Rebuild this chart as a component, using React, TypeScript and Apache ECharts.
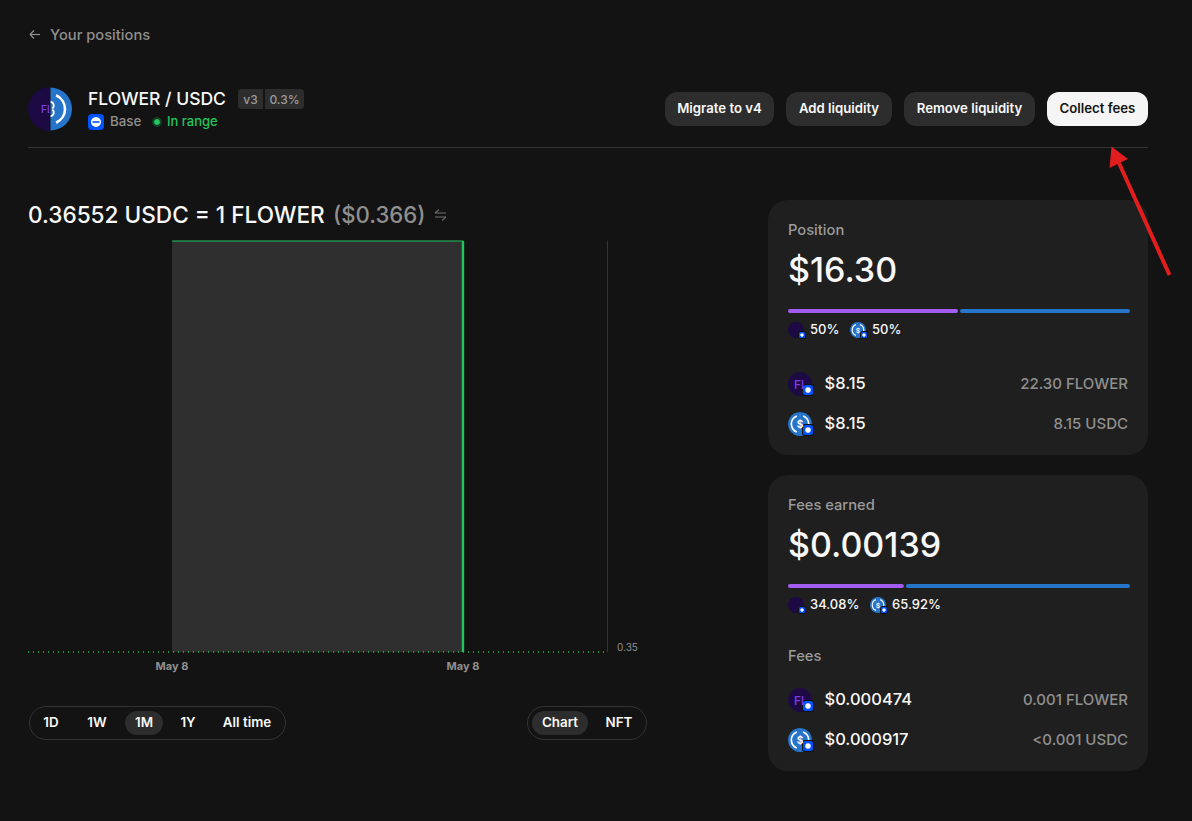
import React, { useEffect, useRef } from "react";
import * as echarts from "echarts";

const FONT = "Inter, 'Noto Sans', sans-serif";
const BG = "#131313";
const CARD = "#1f1f1f";
const CHIP = "#2d2d2d";
const BAND = "#2f2f2f";
const GREY = "#8f8f8f";
const WHITE = "#f8f8f8";
const GREEN = "#22c55e";
const PURPLE = "#a35cf0";
const BLUE = "#2775ca";

// chart data: x is the hour of May 8
const xDomain = [0.06, 23.94];
const yDomain = [0.35, 0.36552];
const priceHours = [0.06, 23.94];
const priceValues = [0.35, 0.35];
const rangeHours = [6, 18];
const rangeTopValues = [0.36552, 0.36552];
const currentHours = [18, 18];
const currentValues = [0.36552, 0.35];
const xTickHours = [6, 18];
const xTickLabel = "May 8";
const yTickValues = [0.35];

const ranges = ["1D", "1W", "1M", "1Y", "All time"];
const views = ["Chart", "NFT"];
const actions = ["Migrate to v4", "Add liquidity", "Remove liquidity", "Collect fees"];
const positionShares = [50, 50];
const feeShares = [34.08, 65.92];
const SHARE_GAP = 0.6;

const txt = (text: string, x: number, y: number, size: number, fill: string, extra: any = {}) => ({
  type: "text",
  silent: true,
  style: {
    text, x, y, fill,
    font: `${extra.weight || 500} ${size}px ${FONT}`,
    textAlign: extra.align || "left",
    textVerticalAlign: "middle",
  },
  z: 20,
});
const rect = (x: number, y: number, w: number, h: number, r: any, fill: string, stroke?: string) => ({
  type: "rect",
  silent: true,
  shape: { x, y, width: w, height: h, r },
  style: stroke ? { fill: "none", stroke, lineWidth: 1 } : { fill },
  z: 10,
});
const seg = (x1: number, y1: number, x2: number, y2: number, stroke: string, lineWidth = 1) => ({
  type: "line",
  silent: true,
  shape: { x1, y1, x2, y2 },
  style: { stroke, lineWidth },
  z: 15,
});
const circle = (cx: number, cy: number, r: number, fill: string) => ({
  type: "circle",
  silent: true,
  shape: { cx, cy, r },
  style: { fill },
  z: 12,
});
const arc = (cx: number, cy: number, r: number, a: number, b: number, lw: number) => ({
  type: "arc",
  silent: true,
  shape: { cx, cy, r, startAngle: a, endAngle: b, clockwise: true },
  style: { stroke: "#ffffff", lineWidth: lw, fill: "none" },
  z: 14,
});

function badge(cx: number, cy: number, s: number) {
  return [
    { ...rect(cx - s / 2 - 1, cy - s / 2 - 1, s + 2, s + 2, 3, "#111111"), z: 15 },
    { ...rect(cx - s / 2, cy - s / 2, s, s, s * 0.25, "#0052ff"), z: 16 },
    { ...circle(cx, cy, s * 0.28, "#ffffff"), z: 17 },
  ];
}
function flowerIcon(cx: number, cy: number, r: number, withText: boolean) {
  const out: any[] = [circle(cx, cy, r, "#1d0a45")];
  if (withText) out.push(txt("Fl", cx - 1, cy, r, "#7c3aed", { align: "center" }));
  return out;
}
function usdcIcon(cx: number, cy: number, r: number) {
  const o = r * 0.72;
  const lw = Math.max(1, r * 0.14);
  return [
    circle(cx, cy, r, BLUE),
    arc(cx, cy, o, -1.2, 1.2, lw),
    arc(cx, cy, o, Math.PI - 1.2, Math.PI + 1.2, lw),
    txt("$", cx, cy, r * 0.85, "#ffffff", { align: "center", weight: 600 }),
  ];
}
function tokenRow(y: number, kind: "f" | "u", usd: string, amount: string) {
  return [
    ...(kind === "f" ? flowerIcon(800, y + 1, 12, true) : usdcIcon(800, y + 1, 12)),
    ...badge(808, y + 7, 10),
    txt(usd, 824.5, y, 16.5, WHITE),
    txt(amount, 1128, y, 15, GREY, { align: "right" }),
  ];
}
function shareLine(y: number, shares: number[], x2: number) {
  return [
    ...flowerIcon(796, y + 1, 8, false),
    ...badge(802, y + 6, 6),
    txt(`${shares[0]}%`, 810, y, 13, WHITE),
    ...usdcIcon(x2, y + 1, 8),
    ...badge(x2 + 6, y + 6, 6),
    txt(`${shares[1]}%`, x2 + 14, y, 13, WHITE),
  ];
}

const shareGrids = [
  { left: 788, top: 309, width: 342, height: 4 },
  { left: 788, top: 584, width: 342, height: 4 },
];
function shareSeries(idx: number, shares: number[]) {
  const base = {
    type: "bar", stack: `s${idx}`, xAxisIndex: idx + 1, yAxisIndex: idx + 1,
    barWidth: 4, silent: true,
  };
  return [
    { ...base, data: [shares[0]], itemStyle: { color: PURPLE, borderRadius: 2 } },
    { ...base, data: [SHARE_GAP], itemStyle: { color: "transparent" } },
    { ...base, data: [shares[1]], itemStyle: { color: BLUE, borderRadius: 2 } },
  ];
}

function buildGraphics() {
  const g: any[] = [];
  // back link
  g.push(seg(30, 34.5, 40, 34.5, GREY, 1.2), seg(30, 34.5, 34, 30.5, GREY, 1.2), seg(30, 34.5, 34, 38.5, GREY, 1.2));
  g.push(txt("Your positions", 50, 35, 14.7, GREY));
  // pair logo
  g.push({ type: "sector", silent: true, shape: { cx: 50, cy: 109, r: 22, r0: 0, startAngle: Math.PI / 2, endAngle: (3 * Math.PI) / 2 }, style: { fill: "#1d0a45" }, z: 11 });
  g.push(txt("FL", 41, 109, 10, "#8040f0"));
  g.push({ ...rect(49.5, 86, 23, 46, 0, BG), z: 21 });
  g.push({ type: "sector", silent: true, shape: { cx: 50.5, cy: 109, r: 21.5, r0: 0, startAngle: -Math.PI / 2, endAngle: Math.PI / 2 }, style: { fill: BLUE }, z: 22 });
  g.push({ ...arc(50, 109, 15, -1.15, 1.15, 2.6), z: 23 });
  g.push({ ...arc(50, 105.5, 3.8, -1.4, 0.9, 1.8), z: 23 });
  g.push({ ...arc(50, 112.5, 3.8, -0.9, 1.4, 1.8), z: 23 });
  g.push(txt("FLOWER / USDC", 88, 98.5, 17.5, WHITE));
  g.push(rect(238, 89, 25, 20, [4, 0, 0, 4], CHIP), rect(265, 89, 39, 20, [0, 4, 4, 0], CHIP));
  g.push(txt("v3", 250.5, 99, 12, "#9b9b9b", { align: "center" }), txt("0.3%", 284.5, 99, 12, "#9b9b9b", { align: "center" }));
  g.push(rect(88, 114, 16, 16, 4, "#0052ff"), circle(96, 122, 5, "#ffffff"), { ...seg(92.5, 122, 99.5, 122, "#0052ff", 1.6) });
  g.push(txt("Base", 110, 121, 13.3, GREY));
  g.push(circle(157, 122, 5, "rgba(34,197,94,0.25)"), { ...circle(157, 122, 3, GREEN), z: 13 });
  g.push(txt("In range", 167, 121, 13, GREEN));
  // action buttons
  const btn = [[665, 109], [786, 106], [904, 131], [1047, 101]];
  actions.forEach((a, i) => {
    const dark = i === actions.length - 1;
    g.push(rect(btn[i][0], 92, btn[i][1], 34, 12, dark ? "#f5f5f5" : CHIP));
    g.push(txt(a, btn[i][0] + btn[i][1] / 2, 108, 13.2, dark ? BG : WHITE, { align: "center", weight: 600 }));
  });
  g.push(seg(28, 147.5, 1148, 147.5, "#333333"));
  // price
  g.push(txt("0.36552 USDC = 1 FLOWER", 28, 214, 22.6, WHITE));
  g.push(txt("($0.366)", 333, 214, 22.2, GREY));
  g.push(seg(435, 213, 446, 213, "#6b6b6b", 1.1), seg(435, 213, 439, 209.5, "#6b6b6b", 1.1));
  g.push(seg(435, 217, 446, 217, "#6b6b6b", 1.1), seg(446, 217, 442, 220.5, "#6b6b6b", 1.1));
  // range pill
  g.push(rect(29.5, 706.5, 256, 33, 16.5, "", "#333333"));
  g.push(rect(125, 711, 38, 24, 12, CHIP));
  const rangeX = [51, 97, 144, 188, 247];
  ranges.forEach((r, i) => g.push(txt(r, rangeX[i], 722, 13.4, WHITE, { align: "center", weight: 600 })));
  // view pill
  g.push(rect(527.5, 706.5, 119, 33, 16.5, "", "#333333"));
  g.push(rect(532, 711, 56, 24, 12, CHIP));
  const viewX = [560, 619];
  views.forEach((v, i) => g.push(txt(v, viewX[i], 722, 13.4, WHITE, { align: "center", weight: 600 })));
  // position card
  g.push({ ...rect(768, 200, 380, 255, 20, CARD), z: -1 });
  g.push(txt("Position", 788, 230, 14.7, "#9b9b9b"));
  g.push(txt("$16.30", 788, 269, 34, WHITE));
  g.push(...shareLine(329, positionShares, 858));
  g.push(...tokenRow(383, "f", "$8.15", "22.30 FLOWER"));
  g.push(...tokenRow(423, "u", "$8.15", "8.15 USDC"));
  // fees card
  g.push({ ...rect(768, 475, 380, 296, 20, CARD), z: -1 });
  g.push(txt("Fees earned", 788, 505, 14.7, "#9b9b9b"));
  g.push(txt("$0.00139", 788, 544, 34, WHITE));
  g.push(...shareLine(604, feeShares, 878));
  g.push(txt("Fees", 788, 656, 14.7, "#9b9b9b"));
  g.push(...tokenRow(699, "f", "$0.000474", "0.001 FLOWER"));
  g.push(...tokenRow(739, "u", "$0.000917", "<0.001 USDC"));
  // red arrow
  g.push({ ...seg(1169.5, 275, 1119, 163, "#e11d1d", 4), z: 30 });
  g.push({
    type: "polygon", silent: true, z: 30,
    shape: { points: [[1111.5, 146.5], [1128, 159], [1109.5, 168]] },
    style: { fill: "#e11d1d" },
  });
  return g;
}

export default function App() {
  const ref = useRef<HTMLDivElement>(null);
  useEffect(() => {
    document.body.style.margin = "0";
    document.body.style.background = BG;
    const chart = echarts.init(ref.current!, undefined, { renderer: "svg" });
    const hiddenX = (i: number) => ({ type: "value", gridIndex: i, min: 0, max: 100 + SHARE_GAP, show: false });
    const hiddenY = (i: number) => ({ type: "category", gridIndex: i, data: ["share"], show: false });
    chart.setOption({
      animation: false,
      backgroundColor: BG,
      textStyle: { fontFamily: FONT },
      tooltip: { show: false },
      grid: [{ left: 28, top: 241, width: 579, height: 411 }, ...shareGrids],
      xAxis: [
        {
          type: "value",
          min: xDomain[0],
          max: xDomain[1],
          axisLine: { show: false },
          axisTick: { show: false },
          splitLine: { show: false },
          axisLabel: {
            customValues: xTickHours,
            formatter: () => xTickLabel,
            color: GREY,
            fontSize: 11,
            fontWeight: 700,
            margin: 8,
            fontFamily: FONT,
          },
        },
        hiddenX(1),
        hiddenX(2),
      ],
      yAxis: [
        {
          type: "value",
          position: "right",
          min: yDomain[0],
          max: yDomain[1],
          axisLine: { show: true, onZero: false, lineStyle: { color: "#333333", width: 1 } },
          axisTick: { show: false },
          splitLine: { show: false },
          axisLabel: {
            customValues: yTickValues,
            formatter: (v: number) => v.toFixed(2),
            color: GREY,
            fontSize: 10,
            margin: 10,
            verticalAlign: "bottom",
            fontFamily: FONT,
          },
        },
        hiddenY(1),
        hiddenY(2),
      ],
      series: [
        {
          type: "line",
          name: "Range",
          data: rangeHours.map((h, i) => [h, rangeTopValues[i]]),
          showSymbol: false,
          clip: false,
          z: 4,
          lineStyle: { color: GREEN, width: 1.2 },
          markArea: {
            silent: true,
            itemStyle: { color: BAND },
            data: [[{ xAxis: rangeHours[0], yAxis: yDomain[0] }, { xAxis: rangeHours[1], yAxis: yDomain[1] }]],
          },
        },
        {
          type: "line",
          name: "Current",
          data: currentHours.map((h, i) => [h, currentValues[i]]),
          showSymbol: false,
          clip: false,
          z: 4,
          lineStyle: { color: GREEN, width: 2.4 },
        },
        {
          type: "line",
          name: "Price",
          data: priceHours.map((h, i) => [h, priceValues[i]]),
          showSymbol: false,
          clip: false,
          z: 5,
          lineStyle: { color: GREEN, width: 1.5, type: [1, 4] },
        },
        ...shareSeries(0, positionShares),
        ...shareSeries(1, feeShares),
      ],
      graphic: { elements: buildGraphics() },
    });
    return () => chart.dispose();
  }, []);
  return <div ref={ref} style={{ width: 1192, height: 821 }} />;
}
